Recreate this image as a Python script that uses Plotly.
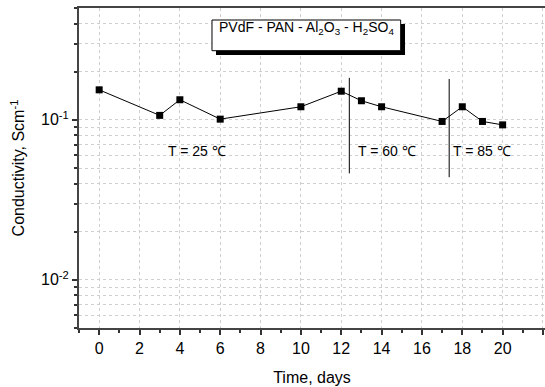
import math
import plotly.graph_objects as go

# Data
days = [0, 3, 4, 6, 10, 12, 13, 14, 17, 18, 19, 20]
conductivity = [0.154, 0.1066, 0.1335, 0.101, 0.1207, 0.151, 0.1316, 0.1207, 0.0977, 0.1207, 0.0977, 0.093]

divider_days = [12.4, 17.35]
divider_top = [0.183, 0.18]
divider_bottom = [0.0463, 0.0438]

temp_labels = ["T = 25 \u2103", "T = 60 \u2103", "T = 85 \u2103"]
temp_label_x = [4.85, 14.27, 19.0]
temp_label_y = 0.0639

title_text = "PVdF - PAN - Al<sub>2</sub>O<sub>3</sub> - H<sub>2</sub>SO<sub>4</sub>"

FONT = "Liberation Sans, Arial, sans-serif"

fig = go.Figure()
fig.add_trace(go.Scatter(
    x=days, y=conductivity, mode="lines+markers",
    line=dict(color="black", width=1),
    marker=dict(symbol="square", size=7, color="black"),
    showlegend=False,
))

for xd, yt, yb in zip(divider_days, divider_top, divider_bottom):
    fig.add_trace(go.Scatter(
        x=[xd, xd], y=[yb, yt], mode="lines",
        line=dict(color="black", width=1), showlegend=False, hoverinfo="skip",
    ))

for txt, xl in zip(temp_labels, temp_label_x):
    fig.add_annotation(x=xl, y=math.log10(temp_label_y), xref="x", yref="y", text=txt, showarrow=False,
                       font=dict(size=14, color="black", family=FONT))

# title box with shadow
fig.add_shape(type="rect", xref="paper", yref="paper", x0=0.294, x1=0.6996, y0=0.853, y1=0.95,
              fillcolor="black", line=dict(width=0), layer="above")
fig.add_shape(type="rect", xref="paper", yref="paper", x0=0.2854, x1=0.6903, y0=0.8666, y1=0.9625,
              fillcolor="white", line=dict(color="black", width=1), layer="above")
fig.add_annotation(x=(0.2854 + 0.6903) / 2, y=(0.8666 + 0.9625) / 2, xref="paper", yref="paper",
                   text=title_text, showarrow=False, yanchor="middle", yshift=7,
                   font=dict(size=14, color="black", family=FONT))

grid = dict(gridcolor="#cfcfcf", griddash="dot", gridwidth=1)

fig.update_xaxes(
    range=[-1, 22.1], tickmode="linear", tick0=0, dtick=2,
    ticks="outside", ticklen=5, tickwidth=1.5, tickcolor="#333",
    showline=True, linecolor="#444", linewidth=2, mirror=True,
    showgrid=True, zeroline=False, **grid,
    minor=dict(ticks="outside", ticklen=3, tickwidth=1.5, tickcolor="#333", dtick=1, tick0=0, showgrid=False),
    tickfont=dict(size=16, color="black", family=FONT),
    title=dict(text="Time, days", font=dict(size=16, color="black", family=FONT), standoff=16),
)
fig.update_yaxes(
    type="log", range=[-2.30103, -0.30103],
    tickvals=[0.01, 0.1], ticktext=["10<sup>-2</sup>", "10<sup>-1</sup>"],
    ticks="outside", ticklen=5, tickwidth=1.5, tickcolor="#333",
    showline=True, linecolor="#444", linewidth=2, mirror=False,
    showgrid=True, zeroline=False, **grid,
    minor=dict(ticks="outside", ticklen=3, tickwidth=1.5, tickcolor="#333",
               tickvals=[0.005, 0.006, 0.007, 0.008, 0.009, 0.02, 0.03, 0.04, 0.05, 0.06, 0.07, 0.08, 0.09,
                         0.2, 0.3, 0.4, 0.5],
               showgrid=True, gridcolor="#cfcfcf", griddash="dot", gridwidth=1),
    tickfont=dict(size=16, color="black", family=FONT),
    title=dict(text="Conductivity, Scm<sup>-1</sup>", font=dict(size=16, color="black", family=FONT), standoff=12),
)

fig.update_layout(
    width=545, height=387,
    margin=dict(l=79, r=0, t=8, b=59),
    paper_bgcolor="white", plot_bgcolor="white",
    font=dict(family=FONT, color="black"),
)

fig.write_html("out.html", config={"displayModeBar": False},
               post_script="document.body.style.margin='0';document.body.style.overflow='hidden';")
